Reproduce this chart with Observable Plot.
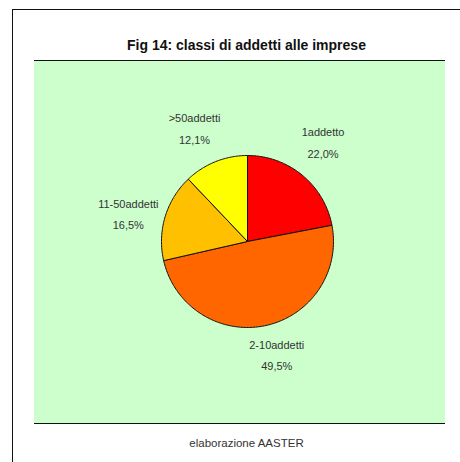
<!DOCTYPE html>
<html>
<head>
<meta charset="utf-8">
<script src="https://cdn.jsdelivr.net/npm/d3@7"></script>
<script src="https://cdn.jsdelivr.net/npm/@observablehq/plot@0.6"></script>
<style>
  html, body { margin: 0; padding: 0; background: #fff; }
  #page { position: relative; width: 460px; height: 462px; overflow: hidden; background: #fff; }
  #frame { position: absolute; left: 12px; top: 9px; width: 460px; height: 470px; border-left: 1.5px solid #111; border-top: 1.5px solid #111; }
  #title { position: absolute; left: 41px; width: 411px; top: 36px; text-align: center;
    font-family: "Liberation Sans", Arial, sans-serif;
    font-weight: bold; font-size: 14px; color: #111; line-height: 18px; }
  #chart { position: absolute; left: 34px; top: 60px; }
  #chart svg { display: block; background: #ccffcc; border-top: 1.5px solid #111; border-bottom: 1.5px solid #111; }
  #caption { position: absolute; left: 41px; width: 411px; top: 436px; text-align: center;
    font-family: "Liberation Sans", Arial, sans-serif;
    font-size: 11.5px; color: #333; line-height: 14px; }
</style>
</head>
<body>
<div id="page">
  <div id="frame"></div>
  <div id="title">Fig 14: classi di addetti alle imprese</div>
  <div id="chart"></div>
  <div id="caption">elaborazione AASTER</div>
</div>
<script>
const categories = ["1addetto", "2-10addetti", "11-50addetti", ">50addetti"];
const values = [22.0, 49.5, 16.5, 12.1];
const valueLabels = ["22,0%", "49,5%", "16,5%", "12,1%"];

const W = 411, H = 362, R = 86, CX = 213, CY = 180;

const arcs = d3.pie().sort(null).value(d => d)(values);

// slice polygons in unit-radius coordinates (y up)
const slicePts = [];
arcs.forEach((a, i) => {
  const cat = categories[i];
  slicePts.push({cat, x: 0, y: 0});
  const n = Math.max(2, Math.ceil((a.endAngle - a.startAngle) / (Math.PI / 180)));
  for (let k = 0; k <= n; k++) {
    const t = a.startAngle + (a.endAngle - a.startAngle) * k / n;
    slicePts.push({cat, x: Math.sin(t), y: Math.cos(t)});
  }
  slicePts.push({cat, x: 0, y: 0});
});

const labelData = arcs.map((a, i) => {
  const m = (a.startAngle + a.endAngle) / 2 - 0.05;
  const f = 1.41 + 0.075 * Math.cos(m);
  return {cat: categories[i], text: categories[i] + "\n" + valueLabels[i], x: f * Math.sin(m), y: f * Math.cos(m)};
});

const chart = Plot.plot({
  width: W,
  height: H,
  margin: 0,
  style: {background: "#ccffcc", overflow: "visible"},
  x: {domain: [-CX / R, (W - CX) / R], axis: null},
  y: {domain: [-(H - CY) / R, CY / R], axis: null},
  color: {domain: categories, range: ["#ff0000", "#ff6600", "#ffc000", "#ffff00"]},
  marks: [
    Plot.line(slicePts, {x: "x", y: "y", z: "cat", fill: "cat", stroke: "#111", strokeWidth: 1, strokeLinejoin: "round"}),
    Plot.text(labelData, {x: "x", y: "y", text: "text", fill: "#333", fontSize: 11, lineHeight: 1.95,
      fontFamily: "'Liberation Sans', Arial, sans-serif"})
  ]
});
document.getElementById("chart").appendChild(chart);
</script>
</body>
</html>
